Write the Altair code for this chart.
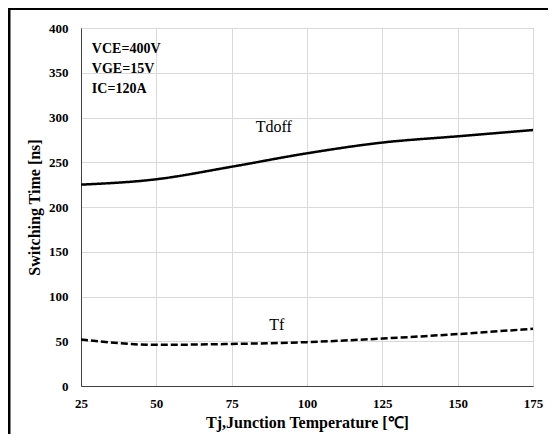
import altair as alt
import pandas as pd

# ---- data ----
temps = [25, 50, 75, 100, 125, 150, 175]
tdoff = [225, 231, 245, 260, 272, 279, 286]
tf = [52, 46, 47, 49, 53, 58, 64]

x_ticks = [25, 50, 75, 100, 125, 150, 175]
y_ticks = [0, 50, 100, 150, 200, 250, 300, 350, 400]

series_names = ["Tdoff", "Tf"]
label_x = [89, 90]
label_y = [289, 68]

cond_lines = ["VCE=400V", "VGE=15V", "IC=120A"]
cond_x = [28.6, 28.6, 28.6]
cond_y = [376, 354, 332]

FONT = "Liberation Serif"

df = pd.DataFrame({
    "T": temps + temps,
    "t": tdoff + tf,
    "series": ["Tdoff"] * len(temps) + ["Tf"] * len(temps),
})

x_scale = alt.Scale(domain=[25, 175], nice=False)
y_scale = alt.Scale(domain=[0, 400], nice=False)

x_enc = alt.X("T:Q", scale=x_scale,
              axis=alt.Axis(values=x_ticks, title="Tj,Junction Temperature [\u2103]",
                            labelFlush=False, titlePadding=4, labelPadding=11))
y_enc = alt.Y("t:Q", scale=y_scale,
              axis=alt.Axis(values=y_ticks, title="Switching Time [ns]",
                            titlePadding=6, labelPadding=13))

lines = alt.Chart(df).mark_line(color="black", strokeWidth=2.5, interpolate="monotone").encode(
    x=x_enc,
    y=y_enc,
    strokeDash=alt.StrokeDash("series:N",
                              scale=alt.Scale(domain=series_names, range=[[1, 0], [7, 3]]),
                              legend=None),
    detail="series:N",
)

lab_df = pd.DataFrame({"T": label_x, "t": label_y, "name": series_names})
labels = alt.Chart(lab_df).mark_text(font=FONT, fontSize=16, color="black").encode(
    x=alt.X("T:Q", scale=x_scale), y=alt.Y("t:Q", scale=y_scale), text="name:N"
)

cond_df = pd.DataFrame({"T": cond_x, "t": cond_y, "line": cond_lines})
cond = alt.Chart(cond_df).mark_text(font=FONT, fontSize=14, fontWeight="bold",
                                    align="left", baseline="middle", color="black").encode(
    x=alt.X("T:Q", scale=x_scale), y=alt.Y("t:Q", scale=y_scale), text="line:N"
)

frame_top = alt.Chart(pd.DataFrame({"a": [0]})).mark_rule(color="black", strokeWidth=3).encode(
    x=alt.value(-73), x2=alt.value(480), y=alt.value(-19.5)
)
frame_left = alt.Chart(pd.DataFrame({"a": [0]})).mark_rule(color="black", strokeWidth=3).encode(
    x=alt.value(-72), y=alt.value(-21), y2=alt.value(420)
)

chart = alt.layer(lines, labels, cond, frame_top, frame_left).properties(
    width=452, height=358,
    padding={"left": 73, "top": 20, "right": 15, "bottom": 48},
    autosize="none",
    background="white",
).configure_view(
    stroke="#7f7f7f", strokeWidth=1
).configure_axis(
    labelFont=FONT, labelFontSize=13, labelFontWeight="bold", labelColor="black",
    titleFont=FONT, titleFontSize=16, titleFontWeight="bold", titleColor="black",
    gridColor="#d9d9d9", gridWidth=1, domainColor="#404040", domainWidth=1,
    tickSize=0,
)

chart.save("out.html", embed_options={"renderer": "svg", "actions": False})
